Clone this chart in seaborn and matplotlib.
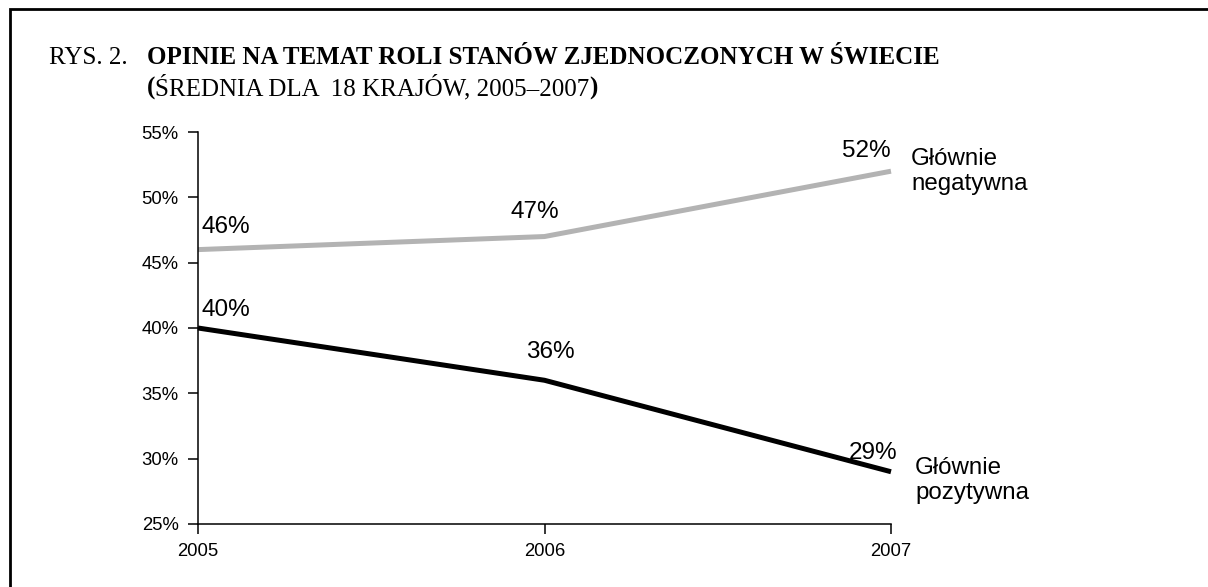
import pandas as pd
import matplotlib
matplotlib.use("Agg")
import matplotlib.pyplot as plt
import matplotlib.patches as patches
import seaborn as sns

# dane
years = [2005, 2006, 2007]
negatywna = [46, 47, 52]
pozytywna = [40, 36, 29]
series_names = ["Głównie\nnegatywna", "Głównie\npozytywna"]
y_ticks = [25, 30, 35, 40, 45, 50, 55]

df = pd.DataFrame({
    "rok": years * 2,
    "wartosc": negatywna + pozytywna,
    "seria": [series_names[0]] * 3 + [series_names[1]] * 3,
})

sns.set_style("white")
plt.rcParams["font.family"] = ["Liberation Sans", "DejaVu Sans"]
plt.rcParams["text.color"] = "black"

W, H = 1208, 587
fig = plt.figure(figsize=(W / 100, H / 100), dpi=100)
ax = fig.add_axes([198 / W, 1 - 524 / H, (891 - 198) / W, (524 - 132) / H])

sns.lineplot(data=df, x="rok", y="wartosc", hue="seria",
             palette=["#b3b3b3", "#000000"], linewidth=3.6,
             legend=False, ax=ax)
for ln in ax.get_lines():
    ln.set_clip_on(False)
    ln.set_solid_capstyle("butt")

ax.set_xlim(2005, 2007)
ax.set_ylim(25, 55)
ax.set_xticks(years)
ax.set_xticklabels([str(y) for y in years])
ax.set_yticks(y_ticks)
ax.set_yticklabels([f"{v}%" for v in y_ticks])
ax.set_xlabel("")
ax.set_ylabel("")
sns.despine(ax=ax)
for s in ["left", "bottom"]:
    ax.spines[s].set_color("black")
    ax.spines[s].set_linewidth(1.1)
ax.tick_params(axis="both", direction="out", length=7, width=1.1,
               bottom=True, left=True, colors="black",
               labelcolor="black", labelsize=13.3, pad=7)

# etykiety wartości
off_neg = [(4, 23, "left"), (-10, 25, "center"), (0, 20, "right")]
off_poz = [(4, 18, "left"), (6, 28, "center"), (6, 19, "right")]
for vals, offs in [(negatywna, off_neg), (pozytywna, off_poz)]:
    for x, v, (dx, dy, ha) in zip(years, vals, offs):
        ax.annotate(f"{v}%", xy=(x, v), xytext=(dx, dy),
                    textcoords="offset pixels", ha=ha, va="center",
                    fontsize=17.5, color="black", annotation_clip=False)

# nazwy serii
ax.annotate(series_names[0], xy=(years[-1], negatywna[-1]), xytext=(20, 0),
            textcoords="offset pixels", ha="left", va="center", color="black",
            fontsize=17.4, linespacing=1.2, annotation_clip=False)
ax.annotate(series_names[1], xy=(years[-1], pozytywna[-1]), xytext=(24, -9),
            textcoords="offset pixels", ha="left", va="center", color="black",
            fontsize=17.4, linespacing=1.2, annotation_clip=False)

# tytuł
serif = ["Liberation Serif", "DejaVu Serif"]
fig.text(49 / W, 1 - 58 / H, "RYS. 2.", family=serif, fontsize=18,
         va="center", ha="left", color="black")
fig.text(147 / W, 1 - 58 / H,
         "OPINIE NA TEMAT ROLI STANÓW ZJEDNOCZONYCH W ŚWIECIE",
         family=serif, fontsize=18, fontweight="bold", va="center", ha="left",
         color="black")

# podtytuł: nawiasy pogrubione
renderer = fig.canvas.get_renderer()
x_px = 147
for part, weight in [("(", "bold"), ("ŚREDNIA DLA  18 KRAJÓW, 2005–2007", "normal"),
                     (")", "bold")]:
    t = fig.text(x_px / W, 1 - 88 / H, part, family=serif, fontsize=18,
                 fontweight=weight, va="center", ha="left", color="black")
    x_px += t.get_window_extent(renderer).width

# ramka
fig.patches.append(patches.Rectangle((10 / W, -0.1), 1.2, 1.1 - 9 / H,
                                     transform=fig.transFigure, fill=False,
                                     edgecolor="black", linewidth=2,
                                     clip_on=False))

fig.savefig("out.png", dpi=100)
